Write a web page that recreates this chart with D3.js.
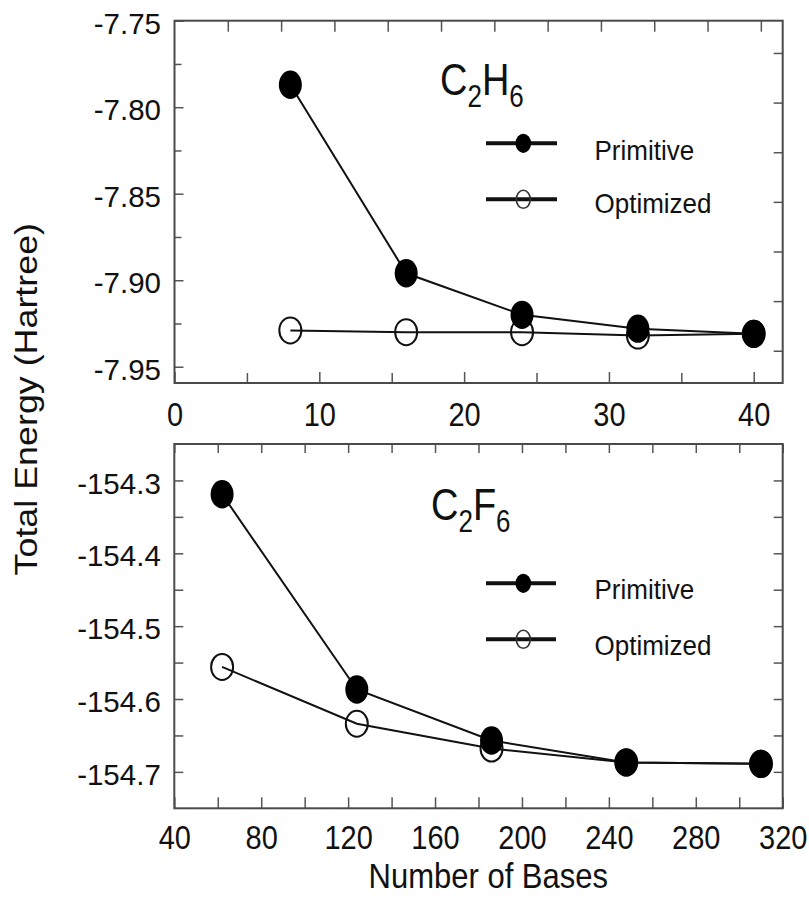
<!DOCTYPE html>
<html>
<head>
<meta charset="utf-8">
<script src="https://cdn.jsdelivr.net/npm/d3@7"></script>
<style>
html,body{margin:0;padding:0;background:#fff;}
svg{display:block;}
text{font-family:"Liberation Sans",Arial,Helvetica,sans-serif;fill:#111;}
</style>
</head>
<body>
<svg id="chart" width="809" height="913"></svg>
<script>
// ---------------- data ----------------
const seriesNames = ["Primitive", "Optimized"];

const c2h6Bases = [8, 16, 24, 32, 40];
const c2h6Primitive = [-7.787, -7.896, -7.920, -7.928, -7.931];
const c2h6Optimized = [-7.929, -7.930, -7.930, -7.932, -7.931];

const c2f6Bases = [62, 124, 186, 248, 310];
const c2f6Primitive = [-154.319, -154.587, -154.657, -154.687, -154.689];
const c2f6Optimized = [-154.556, -154.634, -154.668, -154.687, -154.689];

const c2h6XTicks = [0, 10, 20, 30, 40];
const c2h6XMinor = [5, 15, 25, 35];
const c2h6YTicks = [-7.95, -7.90, -7.85, -7.80, -7.75];
const c2h6YMinor = [-7.925, -7.875, -7.825, -7.775];
const c2h6TopTicks = [1, 2, 3, 4, 5, 6, 7, 8, 9, 10, 11];
const c2h6RightTicks = [1, 2, 3, 4, 5, 6, 7];

const c2f6XTicks = [40, 80, 120, 160, 200, 240, 280, 320];
const c2f6XMinor = [60, 100, 140, 180, 220, 260, 300];
const c2f6YTicks = [-154.7, -154.6, -154.5, -154.4, -154.3];
const c2f6YMinor = [-154.65, -154.55, -154.45, -154.35];

const xTitle = "Number of Bases";
const yTitle = "Total Energy (Hartree)";

// ---------------- layout ----------------
const svg = d3.select("#chart");
const FRAME = "#4a4a4a", TICK = "#555";

function fmt(spec) {
  const f = d3.format(spec);
  return d => f(d).replace("\u2212", "-");
}

function stretch(sel, s, pivot) {
  sel.each(function () {
    const t = d3.select(this);
    let cy = pivot;
    if (cy === undefined) { const b = this.getBBox(); cy = b.y + b.height / 2; }
    const prev = t.attr("transform") || "";
    t.attr("transform", prev + ` translate(0,${cy}) scale(1,${s}) translate(0,${-cy})`);
  });
}

function panel(cfg) {
  const x = d3.scaleLinear().domain(cfg.xDomain).range([cfg.left, cfg.right]);
  const y = d3.scaleLinear().domain(cfg.yDomain).range([cfg.bottom, cfg.top]);
  const g = svg.append("g");

  function styleAxis(ag) {
    ag.select(".domain").remove();
    ag.selectAll(".tick line").attr("stroke", TICK).attr("stroke-width", 1.5);
  }

  // bottom major + labels
  const bx = g.append("g").attr("transform", `translate(0,${cfg.bottom})`)
    .call(d3.axisBottom(x).tickValues(cfg.xTicks).tickSizeInner(-11).tickSizeOuter(0)
      .tickFormat(fmt("d")));
  styleAxis(bx);
  bx.selectAll("text").attr("y", cfg.xLabelOffset).attr("dy", null)
    .style("font-size", "29px").attr("fill", "#111");
  stretch(bx.selectAll("text"), 1.15);
  // bottom minor
  styleAxis(g.append("g").attr("transform", `translate(0,${cfg.bottom})`)
    .call(d3.axisBottom(x).tickValues(cfg.xMinor).tickSizeInner(-cfg.xMinorLen).tickSizeOuter(0).tickFormat("")));

  // top ticks
  const tScale = cfg.topScale || x;
  styleAxis(g.append("g").attr("transform", `translate(0,${cfg.top})`)
    .call(d3.axisTop(tScale).tickValues(cfg.topTicks).tickSizeInner(-cfg.topLen).tickSizeOuter(0).tickFormat("")));

  // left major + labels
  const ly = g.append("g").attr("transform", `translate(${cfg.left},0)`)
    .call(d3.axisLeft(y).tickValues(cfg.yTicks).tickSizeInner(-9).tickSizeOuter(0).tickPadding(13.5)
      .tickFormat(fmt(cfg.yFormat)));
  styleAxis(ly);
  ly.selectAll("text").attr("dy", "0.43em").style("font-size", "29.5px").attr("fill", "#111");
  // left minor
  styleAxis(g.append("g").attr("transform", `translate(${cfg.left},0)`)
    .call(d3.axisLeft(y).tickValues(cfg.yMinor).tickSizeInner(-cfg.yMinorLen).tickSizeOuter(0).tickFormat("")));

  // right ticks
  const rScale = cfg.rightScale || y;
  styleAxis(g.append("g").attr("transform", `translate(${cfg.right},0)`)
    .call(d3.axisRight(rScale).tickValues(cfg.rightTicks).tickSizeInner(-9).tickSizeOuter(0).tickFormat("")));

  // frame
  g.append("rect").attr("x", cfg.left).attr("y", cfg.top)
    .attr("width", cfg.right - cfg.left).attr("height", cfg.bottom - cfg.top)
    .attr("fill", "none").attr("stroke", FRAME).attr("stroke-width", 2);

  // series: optimized first, primitive on top
  const line = d3.line().x(d => x(d[0])).y(d => y(d[1]));
  const opt = cfg.bases.map((b, i) => [b, cfg.optimized[i]]);
  const pri = cfg.bases.map((b, i) => [b, cfg.primitive[i]]);

  g.append("path").datum(opt).attr("d", line).attr("fill", "none")
    .attr("stroke", "#111").attr("stroke-width", 2);
  g.selectAll(".opt").data(opt).enter().append("ellipse")
    .attr("cx", d => x(d[0])).attr("cy", d => y(d[1]))
    .attr("rx", 11).attr("ry", 13).attr("fill", "none")
    .attr("stroke", "#111").attr("stroke-width", 2);

  g.append("path").datum(pri).attr("d", line).attr("fill", "none")
    .attr("stroke", "#111").attr("stroke-width", 2);
  g.selectAll(".pri").data(pri).enter().append("ellipse")
    .attr("cx", d => x(d[0])).attr("cy", d => y(d[1]))
    .attr("rx", 11.5).attr("ry", 14.2).attr("fill", "#000");

  // molecule label with subscripts
  const lab = g.append("text").attr("x", cfg.labelX).attr("y", cfg.labelY)
    .style("font-size", "38px");
  cfg.label.forEach((part, i) => {
    const sub = /\d/.test(part);
    lab.append("tspan").text(part)
      .attr("dy", i === 0 ? 0 : (sub ? 9.9 : -9.9))
      .style("font-size", sub ? "26px" : "38px");
  });
  stretch(lab, 1.18, cfg.labelY);

  // legend
  cfg.legendY.forEach((ly0, i) => {
    g.append("line").attr("x1", cfg.legendX1).attr("x2", cfg.legendX2)
      .attr("y1", ly0).attr("y2", ly0).attr("stroke", "#111").attr("stroke-width", 4);
    const e = g.append("ellipse").attr("cx", cfg.legendMX).attr("cy", ly0);
    if (i === 0) e.attr("rx", 7.8).attr("ry", 9.6).attr("fill", "#000");
    else e.attr("rx", 7).attr("ry", 9).attr("fill", "none").attr("stroke", "#333").attr("stroke-width", 1.6);
    const t = g.append("text").attr("x", cfg.legendTX)
      .attr("y", cfg.legendTextC[i] + 0.358 * 26).style("font-size", "26px").text(seriesNames[i]);
    stretch(t, 1.08);
  });
}

// top panel (C2H6)
panel({
  left: 174.5, right: 782.7, top: 20.7, bottom: 383,
  xDomain: [0, 42], yDomain: [-7.9594, -7.75],
  xTicks: c2h6XTicks, xMinor: c2h6XMinor, xMinorLen: 10,
  yTicks: c2h6YTicks, yMinor: c2h6YMinor, yMinorLen: 7, yFormat: ".2f",
  topScale: d3.scaleLinear().domain([0, 11.41]).range([174.5, 782.7]),
  topTicks: c2h6TopTicks, topLen: 11,
  rightScale: d3.scaleLinear().domain([0.35, 7.65]).range([383, 20.7]),
  rightTicks: c2h6RightTicks,
  xLabelOffset: 41.4,
  bases: c2h6Bases, primitive: c2h6Primitive, optimized: c2h6Optimized,
  label: ["C", "2", "H", "6"], labelX: 440, labelY: 95,
  legendY: [143.3, 199.3], legendX1: 486, legendX2: 557, legendMX: 523.3,
  legendTX: 594.5, legendTextC: [149.5, 202.5]
});

// bottom panel (C2F6)
panel({
  left: 174.3, right: 782.7, top: 444, bottom: 808.3,
  xDomain: [40, 320], yDomain: [-154.75, -154.25],
  xTicks: c2f6XTicks, xMinor: c2f6XMinor, xMinorLen: 11,
  yTicks: c2f6YTicks, yMinor: c2f6YMinor, yMinorLen: 9, yFormat: ".1f",
  topTicks: c2f6XTicks.concat(c2f6XMinor), topLen: 9,
  rightTicks: c2f6YTicks.concat(c2f6YMinor),
  xLabelOffset: 39.1,
  bases: c2f6Bases, primitive: c2f6Primitive, optimized: c2f6Optimized,
  label: ["C", "2", "F", "6"], labelX: 431, labelY: 520,
  legendY: [583.3, 639.3], legendX1: 486, legendX2: 556, legendMX: 523.3,
  legendTX: 594.5, legendTextC: [589, 645]
});

// axis titles
const xt = svg.append("text").attr("x", 488.3).attr("y", 875.8 + 0.358 * 31)
  .attr("text-anchor", "middle").style("font-size", "31px").text(xTitle);
stretch(xt, 1.13);

svg.append("text").attr("text-anchor", "middle")
  .attr("transform", "translate(37.3,399.2) rotate(-90) scale(1.12,1)")
  .style("font-size", "32px").text(yTitle);
</script>
</body>
</html>
